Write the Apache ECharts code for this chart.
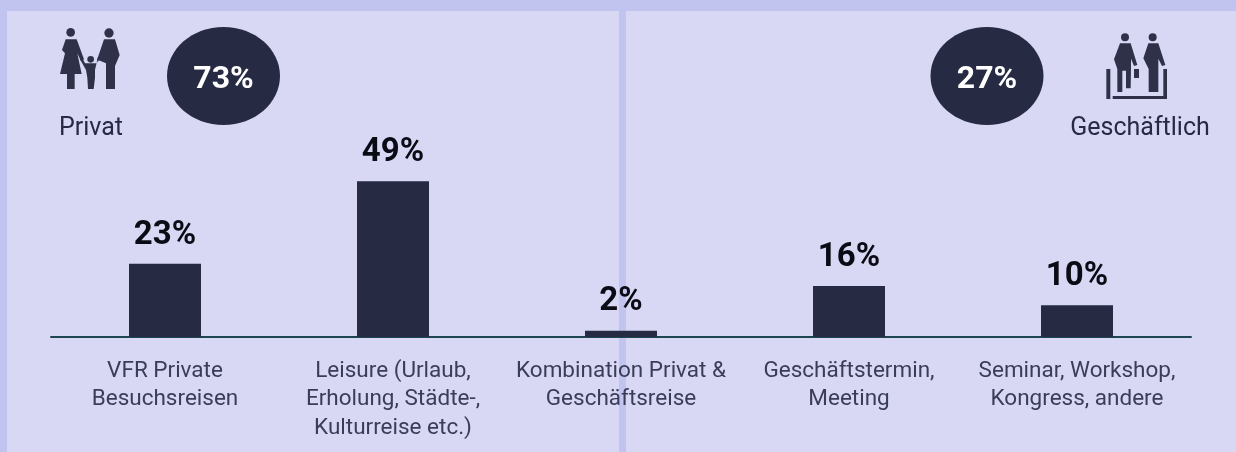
<!DOCTYPE html>
<html><head><meta charset="utf-8">
<style>html,body{margin:0;padding:0;background:#c1c4ee}#c{width:1236px;height:452px}</style>
<script src="https://cdn.jsdelivr.net/npm/echarts@6/dist/echarts.min.js"></script>
</head><body><div id="c"></div>
<script>
const categories = ['VFR Private\nBesuchsreisen','Leisure (Urlaub,\nErholung, Städte-,\nKulturreise etc.)','Kombination Privat &\nGeschäftsreise','Geschäftstermin,\nMeeting','Seminar, Workshop,\nKongress, andere'];
const shares = [23,49,2,16,10];
const totals = ['73%','27%'];
const groups = ['Privat','Geschäftlich'];
const DARK='#262a42', FONT='Roboto';
const iconFill='#2f3149';
// icons are traced in 3x zoom coordinates
const poly=(p)=>({type:'polygon',z:1,shape:{points:p.map(q=>[q[0]/3,q[1]/3])},style:{fill:iconFill}});
const circ=(x,y,r)=>({type:'circle',z:1,shape:{cx:x/3,cy:y/3,r:r/3},style:{fill:iconFill}});
const off=(p,d)=>p.map(q=>[q[0]+d,q[1]]);
const R=2700; // right icon x origin in zoom coords (900*3)
const family=[
 circ(212,97,13),circ(327,99,14),circ(272,178,10),
 poly([[197,118],[230,118],[252,178],[243,184],[232,160],[245,222],[224,222],[224,267],[201,267],[201,222],[180,222],[195,160],[186,150]]),
 poly([[312,118],[345,118],[359,165],[345,198],[345,267],[318,267],[318,190],[300,182],[291,180]]),
 poly([[255,190],[289,190],[300,176],[294,170],[285,210],[285,233],[281,267],[264,267],[262,233],[258,210],[240,178],[246,172]])
];
const business=[
 circ(R+675,112,12),circ(R+758,112,12),
 poly(off([[660,130],[692,130],[712,195],[702,198],[693,176],[693,207],[692,265],[678,265],[678,212],[667,212],[667,276],[652,276],[652,207],[642,178]],R)),
 poly(off([[745,130],[775,130],[796,195],[786,198],[775,176],[775,276],[746,276],[746,207],[730,175]],R)),
 poly(off([[702,207],[717,207],[717,234],[702,234]],R)),
 poly(off([[619,207],[631,207],[631,297],[619,297]],R)),
 poly(off([[638,288],[790,288],[790,207],[801,207],[801,297],[638,297]],R))
];
const chart=echarts.init(document.getElementById('c'),null,{renderer:'canvas'});
const txt=(x,y,t,o)=>({type:'text',z:6,x,y,style:Object.assign({text:t,align:'center',verticalAlign:'middle',fontFamily:FONT},o)});
chart.setOption({
 animation:false,
 backgroundColor:'#c1c4ee',
 grid:{left:51,right:45,top:19,bottom:115},
 xAxis:{type:'category',data:categories,axisTick:{show:false},
  axisLine:{lineStyle:{color:'#1c4650',width:2}},
  axisLabel:{interval:0,color:'#3a3d58',fontFamily:FONT,fontSize:22.5,lineHeight:28.5,margin:20}},
 yAxis:{type:'value',min:0,max:100,show:false,splitLine:{show:false}},
 series:[{type:'bar',data:shares,barWidth:72,z:3,
  itemStyle:{color:DARK},
  label:{show:true,position:'top',distance:12,formatter:'{c}%',color:'#0b0b16',fontFamily:FONT,fontWeight:'bold',fontSize:33}}],
 graphic:[
  {type:'rect',z:0,shape:{x:7,y:11,width:612,height:441},style:{fill:'#d8d8f5'}},
  {type:'rect',z:0,shape:{x:626,y:11,width:610,height:441},style:{fill:'#d8d8f5'}},
  {type:'ellipse',z:5,shape:{cx:223.5,cy:76,rx:56.5,ry:49},style:{fill:DARK}},
  {type:'ellipse',z:5,shape:{cx:987,cy:76,rx:56.5,ry:49},style:{fill:DARK}},
  txt(223.5,80,totals[0],{fill:'#fff',fontWeight:'bold',fontSize:32}),
  txt(987,80,totals[1],{fill:'#fff',fontWeight:'bold',fontSize:32}),
  txt(91,129,groups[0],{fill:DARK,fontSize:25}),
  txt(1140,129,groups[1],{fill:DARK,fontSize:25}),
  ...family,...business
 ]
});
</script></body></html>
